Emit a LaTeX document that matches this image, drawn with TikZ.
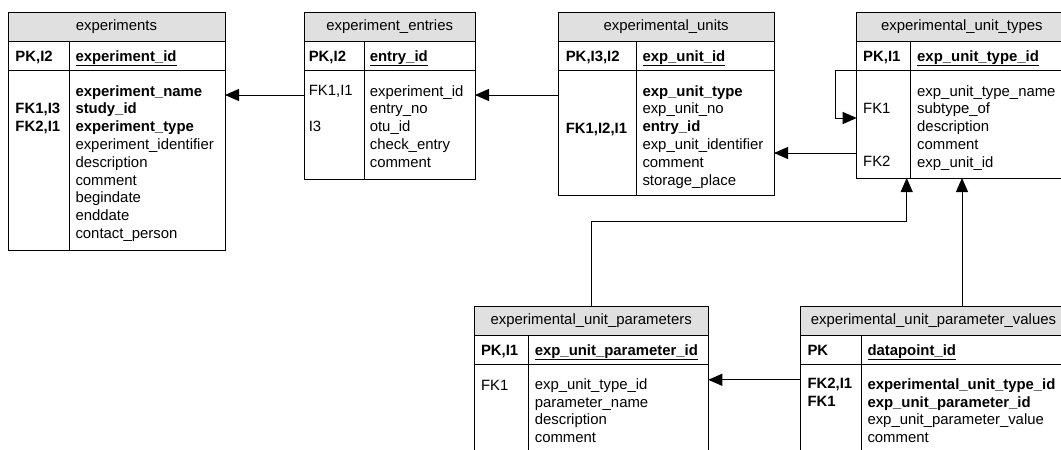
\documentclass[tikz,border=0pt]{standalone}
\usepackage{fontspec}
\setmainfont{Liberation Sans}
\usetikzlibrary{arrows.meta, calc}
\definecolor{hdrgray}{RGB}{224,224,224}
\newcommand{\erfont}{\fontsize{14.9}{17.8}\selectfont}
\tikzset{
  hdr/.style={draw, fill=hdrgray, anchor=north west, minimum height=29, inner sep=0pt, outer sep=0pt, font=\erfont},
  cell/.style={draw, anchor=north west, inner sep=0pt, outer sep=0pt},
  pktxt/.style={anchor=west, inner sep=0pt, text height=10.7pt, text depth=0pt, font=\erfont},
  bodytxt/.style={anchor=north west, align=left, inner sep=0pt, font=\erfont, execute at begin node=\strut},
  fk/.style={line width=1pt, -{Triangle[length=14pt,width=12pt]}}
}
% table frame: name, north west corner, width, key width, body height, title
\newcommand{\ertable}[6]{%
  \node[hdr, minimum width=#3] (#1-h) at (#2) {#6};
  \node[cell, minimum width=#4, minimum height=29.5] (#1-pk) at (#1-h.south west) {};
  \node[cell, minimum width=#3-#4, minimum height=29.5] (#1-pf) at (#1-pk.north east) {};
  \node[cell, minimum width=#4, minimum height=#5] (#1-kb) at (#1-pk.south west) {};
  \node[cell, minimum width=#3-#4, minimum height=#5] (#1-fb) at (#1-kb.north east) {};
}
\begin{document}
\begin{tikzpicture}[x=1pt, y=-1pt, line width=1pt]
    \useasboundingbox (0,0) rectangle (1061,450);
    \clip (0,0) rectangle (1061,450);

    % experiments
    \ertable{exps}{8,12}{217}{61}{179.5}{experiments}
    \node[pktxt] (exps-pkt) at ([xshift=7pt]exps-pk.west) {\textbf{PK,I2}};
    \node[pktxt] (exps-pft) at ([xshift=6pt]exps-pf.west) {\textbf{\underline{experiment\_id}}};
    \node[bodytxt] (exps-kt) at ([shift={(7pt,-32.1pt)}]exps-kb.north west) {\textbf{FK1,I3}\\ \textbf{FK2,I1}};
    \node[bodytxt] (exps-ft) at ([shift={(6pt,-14.3pt)}]exps-fb.north west) {\textbf{experiment\_name}\\ \textbf{study\_id}\\ \textbf{experiment\_type}\\ experiment\_identifier\\ description\\ comment\\ begindate\\ enddate\\ contact\_person};

    % experiment_entries
    \ertable{entries}{304.3,12}{170.7}{60}{108.5}{experiment\_entries}
    \node[pktxt] (entries-pkt) at ([xshift=4pt]entries-pk.west) {\textbf{PK,I2}};
    \node[pktxt] (entries-pft) at ([xshift=5pt]entries-pf.west) {\textbf{\underline{entry\_id}}};
    \node[bodytxt] (entries-kt) at ([shift={(4pt,-14.3pt)}]entries-kb.north west) {FK1,I1\\ \strut\\ I3};
    \node[bodytxt] (entries-ft) at ([shift={(5pt,-14.3pt)}]entries-fb.north west) {experiment\_id\\ entry\_no\\ otu\_id\\ check\_entry\\ comment};

    % experimental_units
    \ertable{units}{558.3,12}{215.7}{77.7}{124.5}{experimental\_units}
    \node[pktxt] (units-pkt) at ([xshift=7pt]units-pk.west) {\textbf{PK,I3,I2}};
    \node[pktxt] (units-pft) at ([xshift=6pt]units-pf.west) {\textbf{\underline{exp\_unit\_id}}};
    \node[bodytxt] (units-kt) at ([shift={(7pt,-49.9pt)}]units-kb.north west) {\textbf{FK1,I2,I1}};
    \node[bodytxt] (units-ft) at ([shift={(6pt,-14.3pt)}]units-fb.north west) {\textbf{exp\_unit\_type}\\ exp\_unit\_no\\ \textbf{entry\_id}\\ exp\_unit\_identifier\\ comment\\ storage\_place};

    % experimental_unit_types
    \ertable{types}{856.7,12}{210.3}{54}{107.5}{experimental\_unit\_types}
    \node[pktxt] (types-pkt) at ([xshift=6pt]types-pk.west) {\textbf{PK,I1}};
    \node[pktxt] (types-pft) at ([xshift=6pt]types-pf.west) {\textbf{\underline{exp\_unit\_type\_id}}};
    \node[bodytxt] (types-kt) at ([shift={(6pt,-32.1pt)}]types-kb.north west) {FK1\\ \strut\\ \strut\\ FK2};
    \node[bodytxt] (types-ft) at ([shift={(6pt,-14.3pt)}]types-fb.north west) {exp\_unit\_type\_name\\ subtype\_of\\ description\\ comment\\ exp\_unit\_id};

    % experimental_unit_parameters
    \ertable{params}{474,306}{234.3}{54.3}{100}{experimental\_unit\_parameters}
    \node[pktxt] (params-pkt) at ([xshift=6.5pt]params-pk.west) {\textbf{PK,I1}};
    \node[pktxt] (params-pft) at ([xshift=6pt]params-pf.west) {\textbf{\underline{exp\_unit\_parameter\_id}}};
    \node[bodytxt] (params-kt) at ([shift={(6.5pt,-13.5pt)}]params-kb.north west) {FK1};
    \node[bodytxt] (params-ft) at ([shift={(6pt,-13.5pt)}]params-fb.north west) {exp\_unit\_type\_id\\ parameter\_name\\ description\\ comment};

    % experimental_unit_parameter_values
    \ertable{values}{800,306}{267}{61}{100}{experimental\_unit\_parameter\_values}
    \node[pktxt] (values-pkt) at ([xshift=7pt]values-pk.west) {\textbf{PK}};
    \node[pktxt] (values-pft) at ([xshift=6pt]values-pf.west) {\textbf{\underline{datapoint\_id}}};
    \node[bodytxt] (values-kt) at ([shift={(7pt,-13.5pt)}]values-kb.north west) {\textbf{FK2,I1}\\ \textbf{FK1}};
    \node[bodytxt] (values-ft) at ([shift={(6pt,-13.5pt)}]values-fb.north west) {\textbf{experimental\_unit\_type\_id}\\ \textbf{exp\_unit\_parameter\_id}\\ exp\_unit\_parameter\_value\\ comment};

    % Foreign keys
    \coordinate (tu1) at ([xshift=-4pt]types-kb.south east);
    \coordinate (tu2) at ([xshift=51.3pt]types-fb.south west);
    \draw[fk] ([yshift=-24.5pt]entries-kb.north west) coordinate (c1) -- (c1 -| exps-fb.east);
    \draw[fk] ([yshift=-24.5pt]units-kb.north west) coordinate (c2) -- (c2 -| entries-fb.east);
    \draw[fk] ([yshift=-82.5pt]types-kb.north west) coordinate (c3) -- (c3 -| units-fb.east);
    \draw[fk] (types-kb.north west) -- ++(-21,0) |- ([yshift=-47.5pt]types-kb.north west);
    \draw[fk] (params-h.north) |- ([yshift=-43pt]tu1) -- (tu1);
    \draw[fk] (values-h.north -| tu2) -- (tu2);
    \draw[fk] ([yshift=-15.3pt]values-kb.north west) coordinate (c4) -- (c4 -| params-fb.east);
\end{tikzpicture}
\end{document}
